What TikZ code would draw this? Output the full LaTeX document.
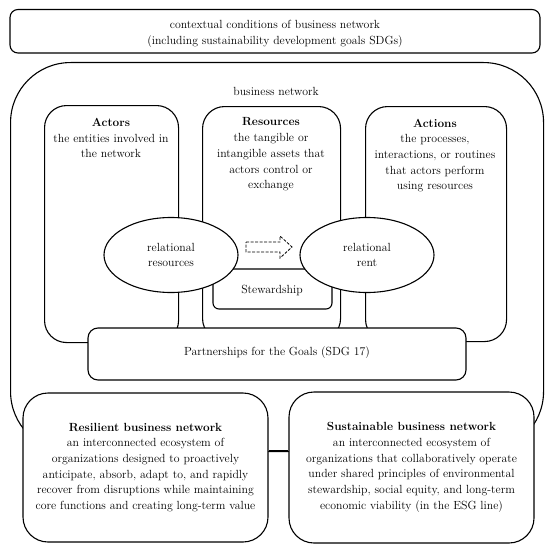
\documentclass[tikz,border=0pt]{standalone}
\usetikzlibrary{shapes.geometric}
\begin{document}
\begin{tikzpicture}[x=1pt,y=-1pt,
  every node/.style={inner sep=0pt, font=\fontsize{11.8}{15.7}\selectfont, align=center},
  frame/.style={draw, line width=1.1pt, fill=white, rounded corners=#1},
  oval/.style={draw, line width=1.1pt, fill=white, ellipse, minimum width=134pt, minimum height=75pt},
  txt/.style={text width=140pt}
]
\useasboundingbox (0,0) rectangle (550,551);
% big business network box
\node[frame=60pt, minimum width=533pt, minimum height=389pt, anchor=north west] (bn) at (10,62) {};
\node (bnlab) at (276,91) {business network};
% three boxes
\node[frame=22pt, minimum width=134pt, minimum height=237pt, anchor=north west] (actors) at (44,105) {};
\node[frame=22pt, minimum width=138pt, minimum height=234pt, anchor=north west] (resources) at (202,106) {};
\node[frame=22pt, minimum width=141pt, minimum height=235pt, anchor=north west] (actions) at (365,106) {};
\node[txt] (actorstxt) at (111,138) {\textbf{Actors}\\the entities involved in\\the network};
\node[txt] (restxt) at (271,154.5) {\textbf{Resources}\\the tangible or\\intangible assets that\\actors control or\\exchange};
\node[txt, text width=150pt] (acttxt) at (435,155.5) {\textbf{Actions}\\the processes,\\interactions, or routines\\that actors perform\\using resources};
% stewardship
\node[frame=6pt, minimum width=119pt, minimum height=40pt] (stew) at (272.5,289) {};
\node (stewtxt) at (272,290) {Stewardship};
% ellipses
\node[oval] (rres) at (171,255) {relational\\resources};
\node[oval] (rrent) at (367,255) {relational\\rent};
% dashed arrow
\draw[line width=0.8pt, dash pattern=on 3pt off 1.5pt]
  (246,242) -- (280,242) -- (280,236) -- (292,247) -- (280,258) -- (280,252) -- (246,252) -- cycle;
% partnerships
\node[frame=10pt, minimum width=378pt, minimum height=52pt] (partner) at (277,354) {};
\node (partnertxt) at (277,353) {Partnerships for the Goals (SDG 17)};
% bottom boxes
\node[frame=25pt, minimum width=245pt, minimum height=149pt] (resil) at (145.5,467.5)
  {\textbf{Resilient business network}\\an interconnected ecosystem of\\organizations designed to proactively\\anticipate, absorb, adapt to, and rapidly\\recover from disruptions while maintaining\\core functions and creating long-term value};
\node[frame=25pt, minimum width=245pt, minimum height=151pt] (sustain) at (411.5,467.5)
  {\textbf{Sustainable business network}\\an interconnected ecosystem of\\organizations that collaboratively operate\\under shared principles of environmental\\stewardship, social equity, and long-term\\economic viability (in the ESG line)};
\coordinate (linky) at (0,451);
\draw[line width=1.1pt] (resil.east |- linky) -- (sustain.west |- linky);
% top box
\node[frame=8pt, minimum width=530pt, minimum height=43.5pt] (context) at (275,31.25) {};
\node (contexttxt) at (275,33.5)
  {contextual conditions of business network\\(including sustainability development goals SDGs)};
\end{tikzpicture}
\end{document}
